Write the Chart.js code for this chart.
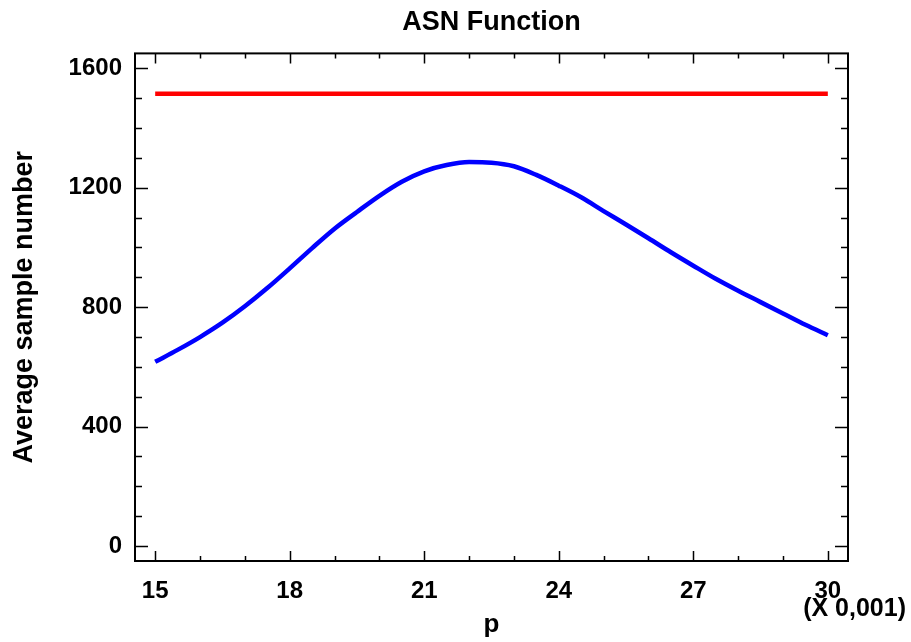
<!DOCTYPE html>
<html>
<head>
<meta charset="utf-8">
<script src="https://cdn.jsdelivr.net/npm/chart.js@4"></script>
<style>
html,body{margin:0;padding:0;background:#fff;}
#wrap{width:911px;height:642px;position:relative;}
</style>
</head>
<body>
<div id="wrap"><canvas id="c" width="911" height="642"></canvas></div>
<script>
// ---- data ----
const pValues = [15,15.5,16,16.5,17,17.5,18,18.5,19,19.5,20,20.5,21,21.5,22,22.5,23,23.5,24,24.5,25,25.5,26,26.5,27,27.5,28,28.5,29,29.5,30];
const asnSequential = [617,657,700,748,803,864,930,998,1063,1119,1173,1220,1255,1276,1286,1284,1272,1243,1207,1168,1122,1077,1031,984,939,895,855,817,779,741,706];
const fixedP = [15,30];
const fixedN = [1515,1515];
const xTicks = [15,16,17,18,19,20,21,22,23,24,25,26,27,28,29,30];
const xLabels = [15,18,21,24,27,30];
const yTicks = [0,100,200,300,400,500,600,700,800,900,1000,1100,1200,1300,1400,1500,1600];
const yLabels = [0,400,800,1200,1600];
const titleText = 'ASN Function';
const xTitle = 'p';
const yTitle = 'Average sample number';
const xScaleNote = '(X 0,001)';

const FONT = 'Liberation Sans, Arial, Helvetica, sans-serif';

const framePlugin = {
  id: 'frame',
  afterDraw(chart) {
    const ctx = chart.ctx;
    const a = chart.chartArea;
    const xs = chart.scales.x, ys = chart.scales.y;
    ctx.save();
    ctx.strokeStyle = '#000';
    ctx.lineWidth = 1.5;
    ctx.beginPath();
    xs.ticks.forEach(t => {
      const px = Math.round(xs.getPixelForValue(t.value)) + 0.5;
      const major = xLabels.includes(t.value);
      const l = major ? 10 : 5;
      ctx.moveTo(px, a.bottom); ctx.lineTo(px, a.bottom - l);
      ctx.moveTo(px, a.top); ctx.lineTo(px, a.top + l);
    });
    ys.ticks.forEach(t => {
      const py = Math.round(ys.getPixelForValue(t.value)) + 0.5;
      const major = yLabels.includes(t.value);
      const l = major ? 13 : 7;
      ctx.moveTo(a.left, py); ctx.lineTo(a.left + l, py);
      ctx.moveTo(a.right, py); ctx.lineTo(a.right - l, py);
    });
    ctx.stroke();
    ctx.lineWidth = 2;
    ctx.strokeRect(a.left, a.top, a.right - a.left, a.bottom - a.top);
    ctx.fillStyle = '#000';
    ctx.font = 'bold 25px ' + FONT;
    ctx.textAlign = 'right';
    ctx.textBaseline = 'alphabetic';
    ctx.fillText(xScaleNote, 906, 616);
    ctx.restore();
  }
};

new Chart(document.getElementById('c'), {
  type: 'line',
  data: {
    datasets: [
      {
        label: 'Fixed sample size',
        data: fixedP.map((x, i) => ({x, y: fixedN[i]})),
        borderColor: '#ff0000',
        borderWidth: 4.5,
        pointRadius: 0,
        fill: false
      },
      {
        label: 'ASN',
        data: pValues.map((x, i) => ({x, y: asnSequential[i]})),
        borderColor: '#0000ff',
        borderWidth: 4.5,
        pointRadius: 0,
        cubicInterpolationMode: 'monotone',
        fill: false
      }
    ]
  },
  options: {
    responsive: false,
    animation: false,
    layout: { padding: { left: 0, right: 63, top: 0, bottom: 0 } },
    plugins: {
      legend: { display: false },
      tooltip: { enabled: false },
      title: {
        display: true,
        text: titleText,
        fullSize: false,
        color: '#000',
        font: { family: FONT, size: 27, weight: 'bold' },
        padding: { top: 6, bottom: 15 }
      }
    },
    scales: {
      x: {
        type: 'linear',
        min: 14.55,
        max: 30.45,
        afterBuildTicks: s => { s.ticks = xTicks.map(v => ({value: v})); },
        afterFit: s => { s.height = 81; },
        grid: { display: false, drawTicks: false },
        border: { display: false },
        ticks: {
          autoSkip: false,
          maxRotation: 0,
          padding: 16,
          color: '#000',
          font: { family: FONT, size: 24, weight: 'bold' },
          callback: v => xLabels.includes(v) ? String(v) : ''
        },
        title: {
          display: true,
          text: xTitle,
          color: '#000',
          font: { family: FONT, size: 26, weight: 'bold' },
          padding: { top: 0, bottom: 2 }
        }
      },
      y: {
        type: 'linear',
        min: -50,
        max: 1650,
        afterBuildTicks: s => { s.ticks = yTicks.map(v => ({value: v})); },
        afterFit: s => { s.width = 135; },
        grid: { display: false, drawTicks: false },
        border: { display: false },
        ticks: {
          autoSkip: false,
          padding: 13,
          color: '#000',
          font: { family: FONT, size: 24, weight: 'bold' },
          callback: v => yLabels.includes(v) ? String(v) : ''
        },
        title: {
          display: true,
          text: yTitle,
          color: '#000',
          font: { family: FONT, size: 27, weight: 'bold' },
          padding: { top: 8, bottom: 0 }
        }
      }
    }
  },
  plugins: [framePlugin]
});
</script>
</body>
</html>
